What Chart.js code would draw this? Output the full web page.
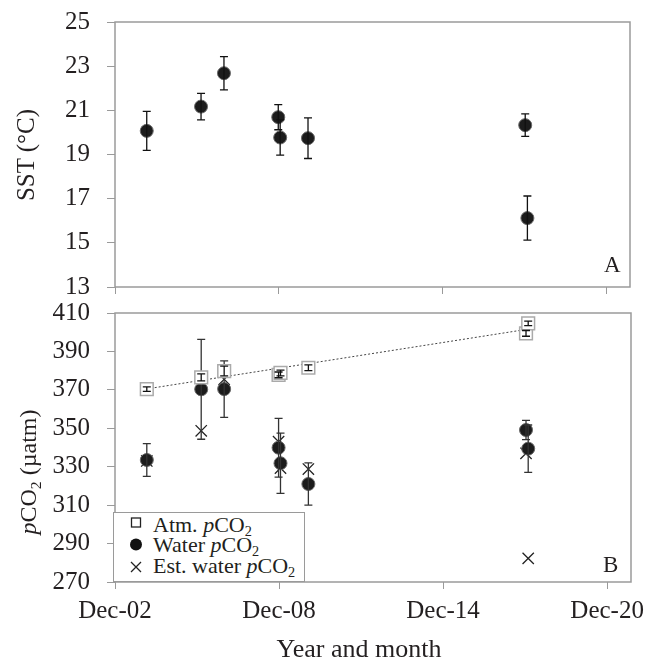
<!DOCTYPE html>
<html>
<head>
<meta charset="utf-8">
<script src="https://cdn.jsdelivr.net/npm/chart.js@4.4.0/dist/chart.umd.min.js"></script>
<style>
  body { margin: 0; background: #fff; }
  #wrap { position: relative; width: 647px; height: 663px; font-family: "Liberation Serif", "Times New Roman", serif; color: #231f20; }
  canvas { position: absolute; left: 0; }
  .t { position: absolute; white-space: nowrap; line-height: 1; }
  sub { font-size: 0.65em; vertical-align: -0.3em; line-height: 0; }
  #legend { position: absolute; left: 113px; top: 512px; width: 190px; height: 68px; border: 1.5px solid #9a9a9a; background: #fff; font-size: 22px; }
</style>
</head>
<body>
<div id="wrap">
  <canvas id="sst" width="647" height="310" style="top:0"></canvas>
  <canvas id="pco2" width="647" height="373" style="top:290px"></canvas>

  <div class="t" style="font-size:25px;left:25px;top:155px;transform:translate(-50%,-50%) rotate(-90deg)">SST (°C)</div>
  <div class="t" style="font-size:24px;left:28px;top:472px;transform:translate(-50%,-50%) rotate(-90deg)"><i>p</i>CO<sub>2</sub> (µatm)</div>
  <div class="t" style="font-size:26px;left:359px;top:636px;transform:translateX(-50%)">Year and month</div>
  <div class="t" style="font-size:23px;left:604px;top:253px">A</div>
  <div class="t" style="font-size:23px;left:603px;top:553px">B</div>

  <div id="legend">
    <svg width="40" height="68" style="position:absolute;left:0;top:0">
      <rect x="17.5" y="5" width="9" height="9" fill="#fff" stroke="#222" stroke-width="1.3"/>
      <circle cx="22" cy="31.5" r="6" fill="#111"/>
      <path d="M17 49 L27 59 M27 49 L17 59" stroke="#222" stroke-width="1.3"/>
    </svg>
    <div class="t" style="left:39px;top:1px"><span>Atm. <i>p</i>CO<sub>2</sub></span></div>
    <div class="t" style="left:39px;top:21px"><span>Water <i>p</i>CO<sub>2</sub></span></div>
    <div class="t" style="left:39px;top:42px"><span>Est. water <i>p</i>CO<sub>2</sub></span></div>
  </div>
</div>

<script>
// x axis: decimal years, ticks every six years from Dec 2002
const xTickValues = [2002.917, 2008.917, 2014.917, 2020.917];
const xTickLabels = ['Dec-02', 'Dec-08', 'Dec-14', 'Dec-20'];
const xMin = 2002.917;
const xMax = 2021.79;

const sampleDates = [2004.08, 2006.07, 2006.91, 2008.90, 2008.97, 2009.99, 2017.95, 2018.03];

// panel A
const sst = [20.07, 21.17, 22.68, 20.69, 19.77, 19.74, 20.33, 16.12];
const sstErr = [0.88, 0.6, 0.75, 0.57, 0.8, 0.92, 0.51, 1.0];

// panel B
const atmPco2 = [370.4, 376.5, 379.8, 377.8, 378.8, 381.5, 399.4, 404.6];
const atmErr = [1.2, 1.8, 2.5, 1.5, 1.5, 1.5, 1.5, 1.2];
const waterPco2 = [333.5, 370.3, 370.4, 339.9, 331.8, 321.0, 349.1, 339.4];
const waterErr = [8.5, 26, 14.7, 15.3, 15.7, 11, 5, 12.3];
const estPco2 = [333, 348.7, 375.5, 343, 329.3, 328.8, 337, 282.3];
const trendDates = [2004.08, 2018.03];
const trendPco2 = [370.5, 401.6];

const pts = (xs, ys) => xs.map((x, i) => ({ x: x, y: ys[i] }));
const FONT = '"Liberation Serif", "Times New Roman", serif';
const INK = '#231f20';
const GRAY = '#9a9a9a';

const errorBars = {
  id: 'errorBars',
  afterDatasetDraw(chart, args) {
    const ds = chart.data.datasets[args.index];
    if (!ds.err) return;
    const ctx = chart.ctx, xs = chart.scales.x, ys = chart.scales.y;
    ctx.save();
    ctx.strokeStyle = ds.errColor || '#111';
    ctx.lineWidth = 1.3;
    ds.data.forEach((p, i) => {
      const x = xs.getPixelForValue(p.x);
      const y1 = ys.getPixelForValue(p.y + ds.err[i]);
      const y2 = ys.getPixelForValue(p.y - ds.err[i]);
      ctx.beginPath();
      ctx.moveTo(x, y1); ctx.lineTo(x, y2);
      ctx.moveTo(x - 4, y1); ctx.lineTo(x + 4, y1);
      ctx.moveTo(x - 4, y2); ctx.lineTo(x + 4, y2);
      ctx.stroke();
    });
    ctx.restore();
  }
};

const frame = {
  id: 'frame',
  beforeDatasetsDraw(chart) {
    const a = chart.chartArea, c = chart.ctx;
    c.save();
    c.strokeStyle = GRAY;
    c.lineWidth = 1.5;
    c.strokeRect(a.left, a.top, a.right - a.left, a.bottom - a.top);
    c.restore();
  }
};

// drop the label overhang so the layout padding alone sets the plot box
const noOverhang = s => { s.paddingTop = 0; s.paddingBottom = 0; s.paddingLeft = 0; s.paddingRight = 0; };

function makeOptions(yMin, yMax, yStep, showX, pad, xHeight) {
  return {
    responsive: false,
    animation: false,
    devicePixelRatio: 1,
    layout: { padding: pad },
    plugins: { legend: { display: false }, tooltip: { enabled: false } },
    scales: {
      x: {
        type: 'linear', min: xMin, max: xMax,
        afterBuildTicks: s => { s.ticks = xTickValues.map(v => ({ value: v })); },
        afterFit: s => { s.height = xHeight; noOverhang(s); },
        grid: { drawOnChartArea: false, color: GRAY, tickLength: 7 },
        border: { display: false },
        ticks: {
          display: showX, autoSkip: false, maxRotation: 0, padding: 7,
          color: INK, font: { family: FONT, size: 25 },
          callback: (v, i) => xTickLabels[i]
        }
      },
      y: {
        min: yMin, max: yMax,
        afterFit: s => { s.width = 115; noOverhang(s); },
        grid: { drawOnChartArea: false, color: GRAY, tickLength: 8 },
        border: { display: false },
        ticks: { stepSize: yStep, padding: 17, color: INK, font: { family: FONT, size: 25 } }
      }
    }
  };
}

new Chart(document.getElementById('sst'), {
  type: 'scatter',
  data: {
    datasets: [{
      label: 'SST',
      data: pts(sampleDates, sst),
      err: sstErr,
      pointStyle: 'circle', pointRadius: 6.5,
      backgroundColor: '#1c1c1c', borderColor: '#6a6a6a', borderWidth: 1
    }]
  },
  options: makeOptions(13, 25, 2, false, { left: 0, right: 17, top: 22, bottom: 10 }, 13),
  plugins: [frame, errorBars]
});

new Chart(document.getElementById('pco2'), {
  type: 'scatter',
  data: {
    datasets: [{
      label: 'Atm. pCO2',
      data: pts(sampleDates, atmPco2),
      err: atmErr,
      pointStyle: 'rect', pointRadius: 9,
      backgroundColor: '#fff', borderColor: '#aaa', borderWidth: 1.5
    }, {
      label: 'Water pCO2',
      data: pts(sampleDates, waterPco2),
      err: waterErr, errColor: '#333',
      pointStyle: 'circle', pointRadius: 6.5,
      backgroundColor: '#1c1c1c', borderColor: '#6a6a6a', borderWidth: 1
    }, {
      label: 'Est. water pCO2',
      data: pts(sampleDates, estPco2),
      pointStyle: 'crossRot', pointRadius: 8,
      backgroundColor: '#222', borderColor: '#222', borderWidth: 1.3
    }, {
      type: 'line',
      label: 'Trend',
      data: pts(trendDates, trendPco2),
      borderColor: '#444', borderWidth: 1, borderDash: [2, 2],
      pointRadius: 0, fill: false
    }]
  },
  options: makeOptions(270, 410, 20, true, { left: 0, right: 16, top: 23, bottom: 0 }, 81),
  plugins: [frame, errorBars]
});
</script>
</body>
</html>
